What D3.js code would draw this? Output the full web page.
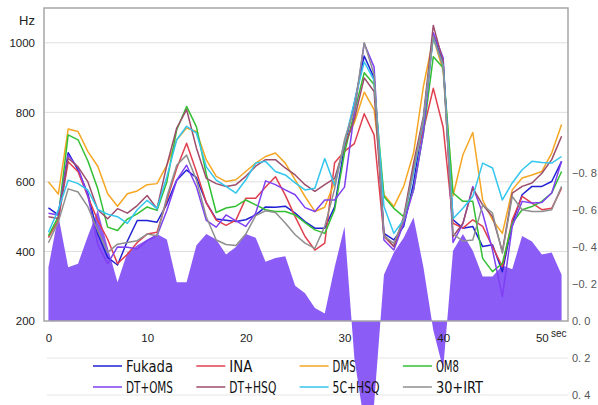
<!DOCTYPE html>
<html>
<head>
<meta charset="utf-8">
<script src="https://cdn.jsdelivr.net/npm/d3@7"></script>
<style>
  body { margin: 0; background: #fff; }
  svg text { font-family: "Liberation Sans", Arial, sans-serif; fill: #222; }
  .legend text { font-family: "Liberation Sans Narrow", "DejaVu Sans Condensed", sans-serif; fill: #111; }
</style>
</head>
<body>
<svg id="chart" width="598" height="405"></svg>
<script>
// time in seconds, one sample per second
const seconds = d3.range(0, 53);

// pitch series (Hz)
const fukada = [525, 505, 684, 634, 566, 450, 383, 361, 430, 489, 489, 484, 537, 605, 634, 612, 540, 493, 490, 486, 491, 505, 528, 527, 530, 510, 486, 467, 467, 528, 702, 827, 962, 899, 452, 433, 472, 597, 779, 1024, 940, 491, 467, 472, 414, 419, 342, 481, 563, 587, 587, 601, 659];
const ina = [440, 490, 658, 629, 557, 489, 435, 365, 392, 426, 450, 455, 547, 639, 711, 629, 540, 490, 475, 490, 553, 553, 585, 615, 562, 500, 443, 404, 424, 655, 688, 710, 796, 735, 443, 414, 491, 644, 750, 869, 757, 481, 467, 491, 472, 414, 356, 491, 558, 539, 520, 524, 582];
const dms = [600, 565, 752, 745, 687, 645, 566, 530, 566, 574, 592, 595, 648, 721, 755, 745, 663, 616, 601, 606, 630, 654, 673, 683, 654, 606, 558, 515, 527, 600, 712, 770, 858, 808, 563, 529, 587, 683, 875, 1014, 920, 560, 678, 742, 548, 491, 452, 577, 611, 620, 630, 683, 765];
const om8 = [445, 500, 735, 721, 660, 580, 470, 460, 493, 508, 528, 518, 600, 750, 817, 758, 622, 512, 525, 530, 548, 534, 520, 515, 515, 505, 483, 462, 452, 520, 683, 800, 914, 880, 558, 524, 500, 577, 741, 960, 928, 568, 544, 544, 380, 342, 366, 481, 520, 529, 544, 568, 630];
const dtOms = [510, 505, 677, 640, 560, 420, 365, 413, 412, 407, 431, 445, 518, 605, 648, 586, 489, 470, 505, 488, 472, 510, 603, 592, 577, 563, 526, 515, 548, 548, 585, 800, 998, 930, 433, 404, 481, 577, 741, 1029, 957, 426, 480, 587, 510, 404, 270, 472, 544, 539, 541, 568, 659];
const dtHsq = [500, 495, 668, 643, 600, 520, 494, 523, 510, 532, 561, 523, 648, 755, 808, 697, 610, 595, 587, 592, 616, 645, 664, 664, 640, 620, 592, 573, 592, 610, 702, 780, 899, 860, 448, 414, 500, 654, 789, 1050, 945, 443, 481, 582, 534, 500, 400, 568, 587, 597, 625, 664, 731];
const c5Hsq = [455, 520, 605, 595, 576, 521, 507, 500, 481, 520, 547, 523, 615, 721, 760, 740, 643, 605, 587, 568, 606, 654, 659, 630, 620, 597, 577, 582, 667, 590, 712, 830, 945, 892, 529, 452, 491, 625, 779, 1014, 935, 494, 524, 558, 654, 640, 548, 597, 635, 659, 656, 654, 673];
const irt30 = [425, 485, 580, 571, 528, 460, 397, 421, 426, 431, 450, 445, 557, 648, 677, 605, 499, 433, 420, 417, 450, 503, 517, 512, 482, 448, 424, 409, 472, 580, 721, 810, 1000, 909, 443, 424, 491, 635, 779, 1019, 930, 450, 430, 433, 534, 510, 395, 558, 520, 515, 515, 520, 587];

// right-axis series (filled area, negative values go up)
const index = [-0.29, -0.57, -0.29, -0.31, -0.46, -0.60, -0.40, -0.21, -0.37, -0.41, -0.44, -0.47, -0.44, -0.21, -0.21, -0.41, -0.47, -0.44, -0.36, -0.40, -0.47, -0.45, -0.32, -0.34, -0.35, -0.19, -0.15, -0.07, -0.04, -0.29, -0.51, 0.20, 0.55, 0.45, -0.25, -0.37, -0.45, -0.56, -0.29, 0.05, 0.26, -0.38, -0.47, -0.38, -0.24, -0.24, -0.30, -0.28, -0.46, -0.43, -0.36, -0.37, -0.25];

const seriesNames = ["Fukada", "INA", "DMS", "OM8", "DT+OMS", "DT+HSQ", "5C+HSQ", "30+IRT"];
const seriesValues = [fukada, ina, dms, om8, dtOms, dtHsq, c5Hsq, irt30];
const seriesColors = ["#2020d4", "#e0404e", "#f5a623", "#33bf33", "#7f3ff2", "#9c4d6c", "#33c6ee", "#8f8f8f"];

const xTicks = [0, 10, 20, 30, 40, 50];
const yTicks = [200, 400, 600, 800, 1000];
const rightTicks = [-0.8, -0.6, -0.4, -0.2, 0, 0.2, 0.4];

const svg = d3.select("#chart");

const plotLeft = 44, plotRight = 568, plotTop = 8, plotBottom = 321;

const x = d3.scaleLinear().domain([-0.45, 52.65]).range([plotLeft, plotRight]);
const y = d3.scaleLinear().domain([200, 1100]).range([plotBottom, plotTop]);
const yR = d3.scaleLinear().domain([0, -0.8]).range([plotBottom, 173]);

// gridlines for the Hz axis
svg.append("g")
    .selectAll("line")
    .data(yTicks.filter(d => d > 200))
    .join("line")
    .attr("x1", plotLeft).attr("x2", plotRight)
    .attr("y1", d => y(d)).attr("y2", d => y(d))
    .attr("stroke", "#dedede");

// gridlines of the right axis that run below the plot
svg.append("g")
    .selectAll("line")
    .data(rightTicks.filter(d => d > 0))
    .join("line")
    .attr("x1", plotLeft + 3).attr("x2", plotRight)
    .attr("y1", d => yR(d)).attr("y2", d => yR(d))
    .attr("stroke", "#e6e6e6");

// filled area on the right scale
svg.append("path")
    .datum(seconds)
    .attr("fill", "#8b5cf6")
    .attr("d", d3.area()
        .x(t => x(t))
        .y0(yR(0))
        .y1((t, i) => yR(index[i])));

// pitch lines
const line = d3.line()
    .x((d, i) => x(seconds[i]))
    .y(d => y(d));

svg.append("g")
    .selectAll("path")
    .data(seriesValues)
    .join("path")
    .attr("fill", "none")
    .attr("stroke", (d, i) => seriesColors[i])
    .attr("stroke-width", 1.5)
    .attr("stroke-linejoin", "round")
    .attr("d", line);

// plot frame
svg.append("rect")
    .attr("x", plotLeft).attr("y", plotTop)
    .attr("width", plotRight - plotLeft).attr("height", plotBottom - plotTop)
    .attr("fill", "none")
    .attr("stroke", "#a6a6a6")
    .attr("stroke-width", 1.5);

// axes
svg.append("g")
    .attr("transform", `translate(${plotLeft},0)`)
    .call(d3.axisLeft(y).tickValues(yTicks).tickSize(0).tickPadding(9).tickFormat(d3.format("d")))
    .call(g => g.select(".domain").remove())
    .call(g => g.selectAll("text").attr("font-size", 11.5))
    .attr("font-family", null);

svg.append("g")
    .attr("transform", `translate(0,${plotBottom})`)
    .call(d3.axisBottom(x).tickValues(xTicks).tickSize(0).tickPadding(13))
    .call(g => g.select(".domain").remove())
    .call(g => g.selectAll("text").attr("font-size", 11.5))
    .attr("font-family", null);

svg.append("g")
    .attr("transform", `translate(${plotRight},0)`)
    .call(d3.axisRight(yR).tickValues(rightTicks).tickSize(0).tickPadding(4)
        .tickFormat(d => d3.format(".1f")(d === 0 ? 0 : d).replace(".", ". ")))
    .call(g => g.select(".domain").remove())
    .call(g => g.selectAll("text").attr("font-size", 11).style("fill", "#555"))
    .attr("font-family", null);

svg.append("text")
    .attr("x", 35).attr("y", 25)
    .attr("text-anchor", "end")
    .attr("font-size", 13)
    .text("Hz");

svg.append("text")
    .attr("x", 551).attr("y", 337)
    .attr("font-size", 10)
    .text("sec");

// legend, 4 columns by 2 rows
const legend = svg.append("g").attr("class", "legend");

const items = legend.selectAll("g")
    .data(seriesNames)
    .join("g")
    .attr("transform", (d, i) => `translate(${93 + (i % 4) * 103.3},${366 + Math.floor(i / 4) * 21})`);

items.append("line")
    .attr("x1", 0).attr("x2", 29)
    .attr("stroke", (d, i) => seriesColors[i])
    .attr("stroke-width", 1.5);

items.append("text")
    .attr("x", 33).attr("y", 6)
    .attr("font-size", 16)
    .attr("textLength", d => d.length * 8 - 1)
    .attr("lengthAdjust", "spacingAndGlyphs")
    .text(d => d);
</script>
</body>
</html>
